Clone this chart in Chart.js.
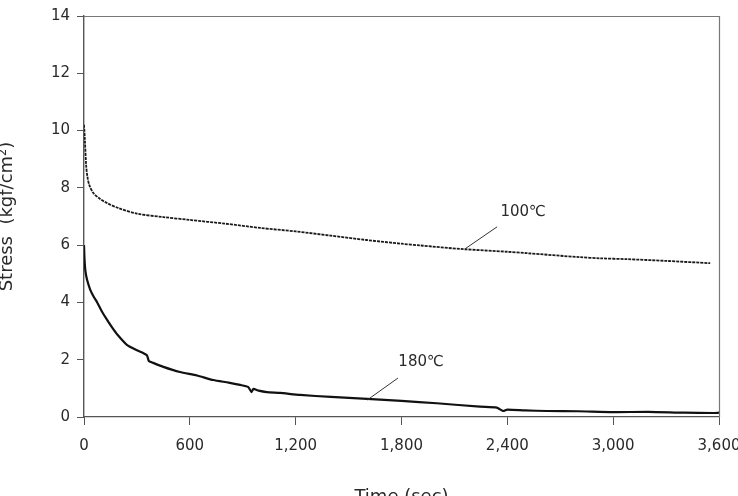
<!DOCTYPE html>
<html>
<head>
<meta charset="utf-8">
<script src="https://cdn.jsdelivr.net/npm/chart.js@4/dist/chart.umd.min.js"></script>
<style>
html,body{margin:0;padding:0;background:#fff;}
#wrap{width:738px;height:496px;position:relative;}
</style>
</head>
<body>
<div id="wrap"><canvas id="c" width="738" height="496"></canvas></div>
<script>
// ---- data ----
const xTicks = [0, 600, 1200, 1800, 2400, 3000, 3600];
const yTicks = [0, 2, 4, 6, 8, 10, 12, 14];

const time100   = [0, 5, 12, 19, 30, 53, 90, 130, 193, 300, 450, 600, 800, 1000, 1200, 1400, 1600, 1800, 1905, 2150, 2400, 2510, 2810, 2925, 3080, 3300, 3550];
const stress100 = [10.2, 9.68, 8.8, 8.4, 8.1, 7.82, 7.62, 7.47, 7.3, 7.1, 6.98, 6.88, 6.75, 6.6, 6.48, 6.33, 6.18, 6.05, 5.99, 5.86, 5.77, 5.72, 5.58, 5.54, 5.51, 5.45, 5.37];

const time180   = [0, 3, 8, 17, 35, 55, 75, 100, 130, 160, 190, 243, 300, 340, 357, 368, 380, 450, 544, 640, 733, 820, 885, 930, 950, 960, 990, 1037, 1111, 1225, 1400, 1605, 1800, 2000, 2245, 2340, 2376, 2400, 2500, 2625, 2800, 3000, 3200, 3400, 3567, 3600];
const stress180 = [6.0, 5.5, 5.1, 4.8, 4.45, 4.2, 4.0, 3.7, 3.4, 3.12, 2.87, 2.52, 2.33, 2.22, 2.15, 1.95, 1.92, 1.75, 1.57, 1.45, 1.29, 1.2, 1.12, 1.05, 0.87, 0.98, 0.92, 0.87, 0.84, 0.77, 0.7, 0.63, 0.56, 0.48, 0.36, 0.33, 0.21, 0.26, 0.23, 0.21, 0.2, 0.17, 0.18, 0.15, 0.14, 0.15];

const seriesLabels = ['100℃', '180℃'];
// callout label anchors in data units: [textX, textY, lineStartX, lineStartY, lineEndX, lineEndY]
const calloutPos = [
  [2490, 7.17, 2342, 6.64, 2160, 5.87],
  [1911, 1.92, 1780, 1.36, 1605, 0.59]
];

const toPts = (xs, ys) => xs.map((x, i) => ({x: x, y: ys[i]}));
const FONT = '"DejaVu Sans", Verdana, sans-serif';
const INK = '#2a2a2a';

const framePlugin = {
  id: 'frame',
  afterDraw(chart) {
    const {ctx, chartArea: a} = chart;
    ctx.save();
    ctx.strokeStyle = '#777';
    ctx.lineWidth = 1.2;
    ctx.beginPath();
    ctx.moveTo(a.left, a.top + 0.5);
    ctx.lineTo(a.right + 0.5, a.top + 0.5);
    ctx.lineTo(a.right + 0.5, a.bottom);
    ctx.stroke();
    // callouts
    const xs = chart.scales.x, ys = chart.scales.y;
    ctx.font = '15px ' + FONT;
    ctx.fillStyle = INK;
    ctx.textAlign = 'center';
    ctx.textBaseline = 'middle';
    ctx.strokeStyle = '#333';
    ctx.lineWidth = 1;
    calloutPos.forEach((p, i) => {
      ctx.fillText(seriesLabels[i], xs.getPixelForValue(p[0]), ys.getPixelForValue(p[1]));
      ctx.beginPath();
      ctx.moveTo(xs.getPixelForValue(p[2]), ys.getPixelForValue(p[3]));
      ctx.lineTo(xs.getPixelForValue(p[4]), ys.getPixelForValue(p[5]));
      ctx.stroke();
    });
    ctx.restore();
  }
};

new Chart(document.getElementById('c'), {
  type: 'line',
  data: {
    datasets: [
      {label: seriesLabels[0], data: toPts(time100, stress100), borderColor: '#1a1a1a', borderWidth: 1.8, borderDash: [3, 1], pointRadius: 0, tension: 0.3, fill: false},
      {label: seriesLabels[1], data: toPts(time180, stress180), borderColor: '#111', borderWidth: 2.2, pointRadius: 0, tension: 0.2, fill: false}
    ]
  },
  options: {
    responsive: false,
    animation: false,
    layout: {padding: {top: 16, right: 19, left: 0, bottom: 0}},
    plugins: {legend: {display: false}, tooltip: {enabled: false}},
    scales: {
      x: {
        type: 'linear', min: 0, max: 3600,
        afterBuildTicks: s => { s.ticks = xTicks.map(v => ({value: v})); },
        afterFit: s => { s.height = 79; s.paddingRight = 0; s.paddingLeft = 0; },
        ticks: {color: INK, font: {family: FONT, size: 15}, padding: 12, maxRotation: 0,
                callback: v => v.toLocaleString('en-US')},
        grid: {display: true, drawOnChartArea: false, drawTicks: true, tickLength: 8, color: '#555'},
        border: {display: true, color: '#555', width: 1.2},
        title: {display: true, text: 'Time (sec)', color: INK, font: {family: FONT, size: 18}, padding: {top: -12, bottom: -12}}
      },
      y: {
        min: 0, max: 14,
        afterBuildTicks: s => { s.ticks = yTicks.map(v => ({value: v})); },
        afterFit: s => { s.width = 84; s.paddingTop = 0; s.paddingBottom = 0; },
        ticks: {color: INK, font: {family: FONT, size: 15}, padding: 7},
        grid: {display: true, drawOnChartArea: false, drawTicks: true, tickLength: 7, color: '#555'},
        border: {display: true, color: '#555', width: 1.4},
        title: {display: true, text: 'Stress  (kgf/cm²)', color: INK, font: {family: FONT, size: 18}, padding: {top: -3, bottom: -3}}
      }
    }
  },
  plugins: [framePlugin]
});
</script>
</body>
</html>
